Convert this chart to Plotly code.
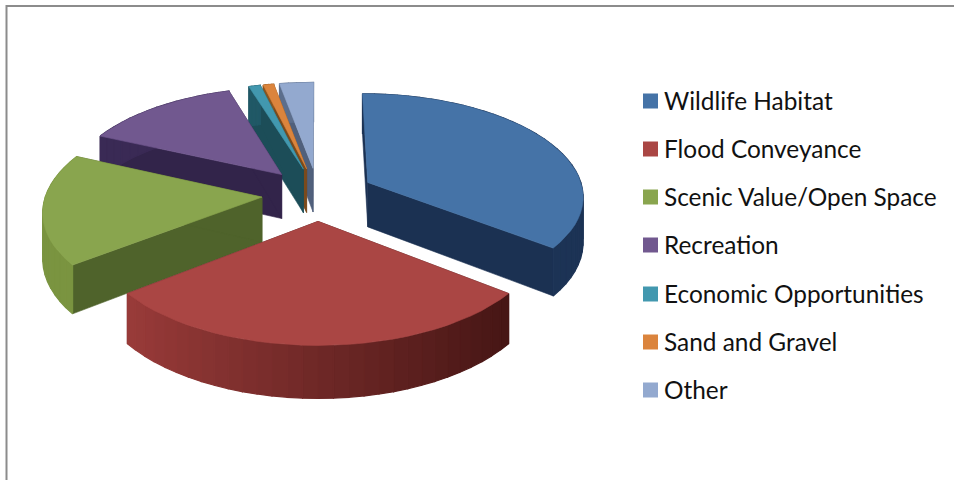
import math
import plotly.graph_objects as go

# Share of responses per category
categories = ["Wildlife Habitat", "Flood Conveyance", "Scenic Value/Open Space", "Recreation",
              "Economic Opportunities", "Sand and Gravel", "Other"]
values = [35.5, 29.0, 17.3, 13.4, 1.0, 0.9, 2.9]
top_colors = ["#4573A7", "#AA4644", "#89A54E", "#71588F", "#4298AF", "#DB843D", "#93A9CF"]
face_colors = ["#1B3152", "#4A1A19", "#4F632B", "#32244A", "#1C4D58", "#7A4A1C", "#50607C"]
rim_light = ["#1C3355", "#A03E3C", "#7A9440", "#3A2A55", "#205866", "#8A5520", "#5C6E8C"]
rim_dark = ["#1C3355", "#461615", "#64793A", "#3A2A55", "#205866", "#8A5520", "#5C6E8C"]
paint_order = [6, 5, 4, 3, 0, 2, 1]

# Perspective parameters of the tilted pie, in pixels
CX, CY, R, K, P, DEPTH, EXPLODE = 318, 194, 216, 102, 0.12, 45, 0.26


def project(u, v, drop=0.0):
    s = 1 / (1 + P * v)
    return CX + R * u * s, CY - K * v * s + drop * s


def mix(a, b, t):
    ca = [int(a[i:i + 2], 16) for i in (1, 3, 5)]
    cb = [int(b[i:i + 2], 16) for i in (1, 3, 5)]
    return "#" + "".join(f"{round(x + (y - x) * t):02X}" for x, y in zip(ca, cb))


def polygon(points, color, width=0.6):
    xs, ys = zip(*points)
    return go.Scatter(x=list(xs) + [xs[0]], y=list(ys) + [ys[0]], mode="lines", fill="toself",
                      fillcolor=color, line=dict(color=color, width=width),
                      hoverinfo="skip", showlegend=False)


fig = go.Figure()
total = sum(values)
spans = []
running = 0.0
for val in values:
    start = running / total * 2 * math.pi
    running += val
    spans.append((start, running / total * 2 * math.pi))

for i in paint_order:
    a0, a1 = spans[i]
    mid = (a0 + a1) / 2
    ou, ov = EXPLODE * math.sin(mid), EXPLODE * math.cos(mid)
    steps = max(4, int((a1 - a0) / 0.06))
    angles = [a0 + (a1 - a0) * k / steps for k in range(steps + 1)]
    rim = [(ou + math.sin(a), ov + math.cos(a)) for a in angles]

    # Cut faces running from the apex out to each end of the rim
    for end in (rim[0], rim[-1]):
        fig.add_trace(polygon([project(ou, ov), project(*end), project(*end, DEPTH), project(ou, ov, DEPTH)],
                              face_colors[i]))
    # Outer wall, shaded strip by strip
    for k in range(steps):
        t = min(1.0, max(0.0, (rim[k][0] + 0.9) / 1.7))
        col = mix(rim_light[i], rim_dark[i], t)
        fig.add_trace(polygon([project(*rim[k]), project(*rim[k + 1]),
                               project(*rim[k + 1], DEPTH), project(*rim[k], DEPTH)], col, width=1.2))
    # Top surface
    fig.add_trace(polygon([project(ou, ov)] + [project(*p) for p in rim], top_colors[i]))

# Legend rows
legend_y = [101, 149, 197, 245, 294, 342, 390]
shapes = [dict(type="rect", x0=6.5, y0=6, x1=980, y1=500, line=dict(color="#8C8C8C", width=2), layer="below")]
annotations = []
for name, col, y in zip(categories, top_colors, legend_y):
    shapes.append(dict(type="rect", x0=643, x1=658, y0=y - 7.5, y1=y + 7.5, fillcolor=col, line=dict(width=0)))
    annotations.append(dict(x=662, y=y - 1, text=name, showarrow=False, xanchor="left", yanchor="middle",
                            font=dict(family="Lato", size=24.4, color="#111111")))

fig.update_layout(width=954, height=480, margin=dict(l=0, r=0, t=0, b=0), autosize=False,
                  paper_bgcolor="white", plot_bgcolor="white", showlegend=False,
                  xaxis=dict(range=[0, 954], visible=False, fixedrange=True),
                  yaxis=dict(range=[480, 0], visible=False, fixedrange=True),
                  shapes=shapes, annotations=annotations)
fig.write_html("out.html", config={"displayModeBar": False})
